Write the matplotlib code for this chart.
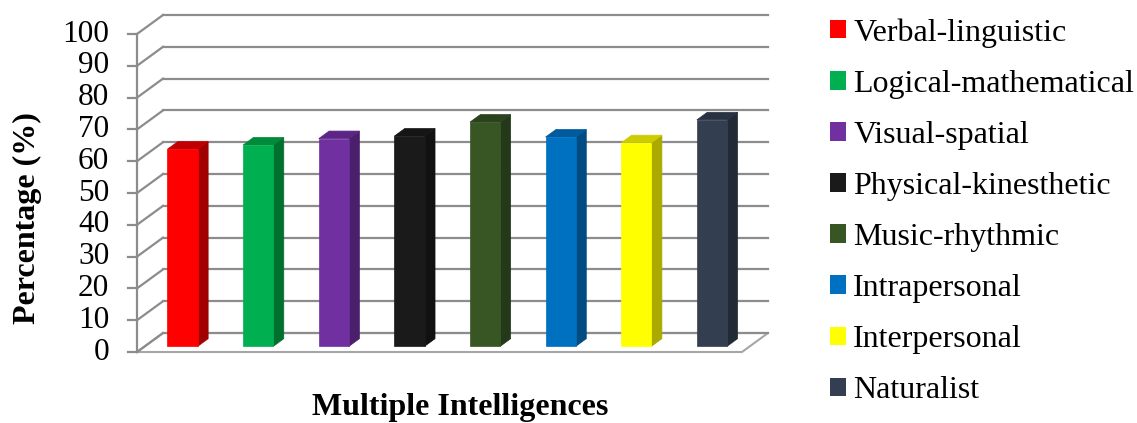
import matplotlib.pyplot as plt
from matplotlib.patches import Polygon, Patch
from matplotlib.transforms import offset_copy

# Mean scores per intelligence type
categories = ['Verbal-linguistic', 'Logical-mathematical', 'Visual-spatial',
              'Physical-kinesthetic', 'Music-rhythmic', 'Intrapersonal',
              'Interpersonal', 'Naturalist']
values = [62.0, 63.3, 65.3, 66.1, 70.5, 65.8, 64.0, 71.2]
y_ticks = [0, 10, 20, 30, 40, 50, 60, 70, 80, 90, 100]

front_colors = ['#FF0000', '#00B050', '#7030A0', '#1A1A1A',
                '#375623', '#0070C0', '#FFFF00', '#333F50']
side_colors = ['#A00000', '#00702F', '#4A1F6B', '#111111',
               '#24391A', '#004B82', '#AAAA00', '#222A35']
top_colors = ['#C00000', '#008A3A', '#5A2585', '#151515',
              '#2B431C', '#005A9E', '#CCCC00', '#283241']

plt.rcParams['font.family'] = ['Liberation Serif', 'DejaVu Serif']

# oblique projection: depth z in [0, 1] shifts points right and up
DX = 0.344   # category units per full depth
DY = 5.97    # value units per full depth
BAR_W = 0.4
Z0, Z1 = 0.3, 0.7


def proj(x, y, z):
    return (x + z * DX, y + z * DY)


fig = plt.figure(figsize=(11.37, 4.23), dpi=100, facecolor='white')
ax = fig.add_axes([137 / 1137, 71 / 423, 605 / 1137, 318 / 423])
ax.set_xlim(0, len(categories))
ax.set_ylim(0, 100)
ax.axis('off')

n = len(categories)
grid_c = '#8C8C8C'
floor_c = '#A6A6A6'

# floor
floor = Polygon([proj(0, 0, 0), proj(n, 0, 0), proj(n, 0, 1), proj(0, 0, 1)],
                closed=True, facecolor='white', edgecolor=floor_c, lw=1.5,
                clip_on=False, zorder=1)
ax.add_patch(floor)

# gridlines on back wall and side wall, ticks on the front axis
for v in y_ticks:
    x0, y0 = proj(0, v, 1)
    x1, y1 = proj(n, v, 1)
    ax.plot([x0, x1], [y0, y1], color=grid_c, lw=1.6, clip_on=False, zorder=2)
    fx, fy = proj(0, v, 0)
    ax.plot([fx, x0], [fy, y0], color=grid_c, lw=1.6, clip_on=False, zorder=2)
    ax.plot([fx - 0.12, fx], [fy, fy], color=grid_c, lw=1.6, clip_on=False, zorder=2)
    ax.text(fx, fy, str(v), ha='right', va='center', fontsize=22.5,
            transform=offset_copy(ax.transData, fig=fig, x=-20, y=0, units='points'))

ax.plot([0, 0], [0, 100], color=grid_c, lw=1.6, clip_on=False, zorder=2)

# 3D-looking columns
for i, (val, fc, sc, tc) in enumerate(zip(values, front_colors, side_colors, top_colors)):
    xl = i + 0.5 - BAR_W / 2
    xr = i + 0.5 + BAR_W / 2
    front = [proj(xl, 0, Z0), proj(xr, 0, Z0), proj(xr, val, Z0), proj(xl, val, Z0)]
    side = [proj(xr, 0, Z0), proj(xr, 0, Z1), proj(xr, val, Z1), proj(xr, val, Z0)]
    top = [proj(xl, val, Z0), proj(xr, val, Z0), proj(xr, val, Z1), proj(xl, val, Z1)]
    for pts, c in ((side, sc), (top, tc), (front, fc)):
        ax.add_patch(Polygon(pts, closed=True, facecolor=c, edgecolor=c, lw=0.5,
                             clip_on=False, zorder=3 + i * 0.01))

fig.text(27 / 1137, 1 - 218 / 423, 'Percentage (%)', rotation=90, ha='center',
         va='center', fontsize=23, fontweight='bold')
fig.text(460 / 1137, 1 - 407 / 423, 'Multiple Intelligences', ha='center',
         va='center', fontsize=23, fontweight='bold')

handles = [Patch(facecolor=c, edgecolor='none') for c in front_colors]
fig.legend(handles, categories, loc='upper left', bbox_to_anchor=(812 / 1137, 1.0),
           frameon=False, fontsize=23, handlelength=0.5, handleheight=0.5,
           handletextpad=0.22, labelspacing=0.69, borderaxespad=0.17)

fig.savefig('out.png', dpi=100, facecolor='white')
